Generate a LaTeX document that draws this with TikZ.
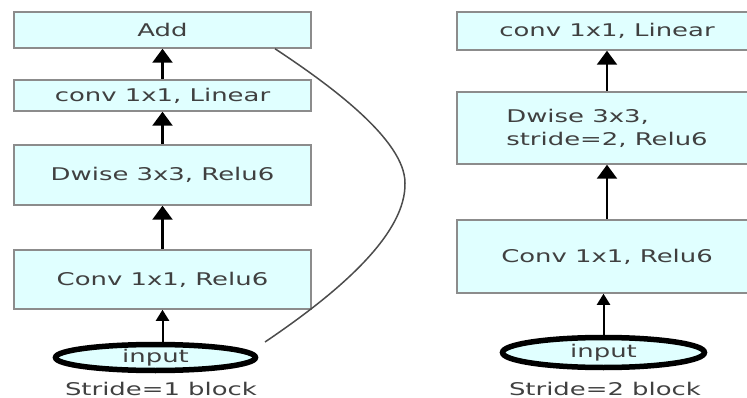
\documentclass[tikz,border=0pt]{standalone}
\usepackage{fontspec}
\setmainfont{DejaVu Sans}[FakeStretch=1.48]
\usetikzlibrary{arrows.meta,shapes.geometric}
\definecolor{boxfill}{RGB}{224,255,255}
\definecolor{txtgray}{RGB}{64,64,64}

\begin{document}
\begin{tikzpicture}[
	x = 1pt, y = -1pt,
	every node/.style = {font = \fontsize{17.5}{23}\selectfont, text = txtgray},
	layer/.style = {draw = black!45, line width = 1.5pt, fill = boxfill, inner sep = 0pt},
	leftlayer/.style = {layer, minimum width = 297pt},
	rightlayer/.style = {layer, minimum width = 300pt},
	inp/.style = {ellipse, draw = black, line width = 5.5pt, fill = boxfill, inner sep = 0pt},
	up/.style = {draw = black, line width = 2.5pt, -{Triangle[width = 20pt, length = 14pt]}},
	upsmall/.style = {draw = black, line width = 2pt, -{Triangle[width = 13pt, length = 11pt]}},
	skip/.style = {draw = black!70, line width = 1.5pt}
	]
	\useasboundingbox (0,0) rectangle (747,398);
	\clip (0,0) rectangle (747,398);

	\node[leftlayer, minimum height = 36pt] (add) at (162.5,30) {Add};
	\node[leftlayer, minimum height = 31pt] (lin1) at (162.5,95.5) {conv 1x1, Linear};
	\node[leftlayer, minimum height = 60pt] (dw1) at (162.5,175) {Dwise 3x3, Relu6};
	\node[leftlayer, minimum height = 59pt] (cv1) at (162.5,279.5) {Conv 1x1, Relu6};
	\node[inp, minimum width = 200pt, minimum height = 26pt] (in1) at (155.5,357.5) {input};
	\node[anchor = base] (cap1) at (161,395) {Stride=1 block};
	\coordinate (bend) at (405,183);

	\draw[upsmall] (in1.north -| cv1.south) -- (cv1.south);
	\draw[up] (cv1) -- (dw1);
	\draw[up] (dw1) -- (lin1);
	\draw[up] (lin1) -- (add);
	\draw[skip] ([xshift = 109.5pt, yshift = 15.5pt]in1.center) .. controls (345,288) and (406,232) .. (bend)
		.. controls (405,140) and (330,85) .. ([xshift = 112.5pt]add.south);

	\node[rightlayer, minimum height = 38pt] (lin2) at (607,31) {conv 1x1, Linear};
	\node[rightlayer, minimum height = 72pt, align = left] (dw2) at (607,128) {Dwise 3x3,\\stride=2, Relu6};
	\node[rightlayer, minimum height = 73pt] (cv2) at (607,256.5) {Conv 1x1, Relu6};
	\node[inp, minimum width = 202pt, minimum height = 30pt] (in2) at (603.5,352.5) {input};
	\node[anchor = base] (cap2) at (605,395) {Stride=2 block};

	\draw[upsmall] (in2) -- (in2 |- cv2.south);
	\draw[up] (cv2) -- (dw2);
	\draw[up] (dw2) -- (lin2);
\end{tikzpicture}
\end{document}
